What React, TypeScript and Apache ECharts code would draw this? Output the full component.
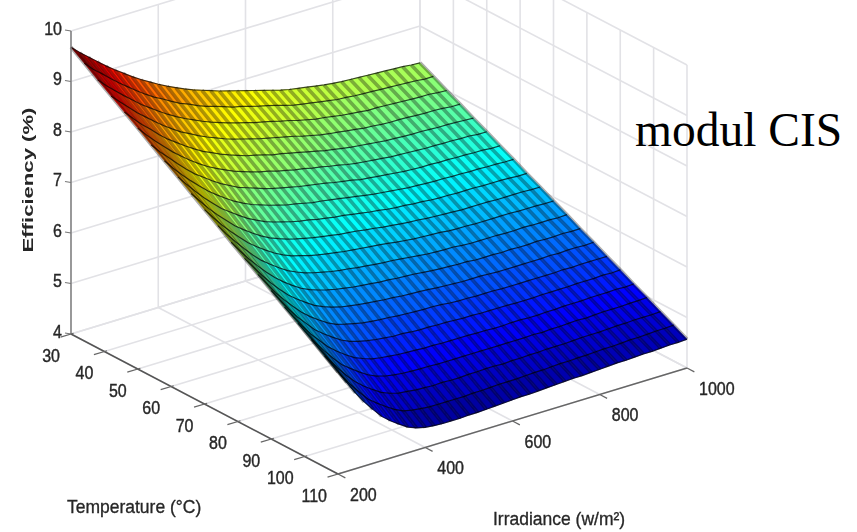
import React, { useEffect, useRef } from "react";
import * as echarts from "echarts";

const temperatureTicks = [30, 40, 50, 60, 70, 80, 90, 100, 110];
const irradianceTicks = [200, 400, 600, 800, 1000];
const efficiencyTicks = [4, 5, 6, 7, 8, 9, 10];

const temperatures = [30, 34, 38, 42, 46, 50, 54, 58, 62, 66, 70, 74, 78, 82, 86, 90, 94, 98, 102, 106, 110];
const irradiances = [200, 220, 240, 260, 280, 300, 320, 340, 360, 380, 400, 420, 440, 460, 480, 500, 520, 540, 560, 580, 600, 620, 640, 660, 680, 700, 720, 740, 760, 780, 800, 820, 840, 860, 880, 900, 920, 940, 960, 980, 1000];

// One array per irradiance, one value per temperature.
const efficiency = [
  [9.68, 9.5, 9.31, 9.13, 8.95, 8.77, 8.58, 8.4, 8.22, 8.03, 7.85, 7.67, 7.48, 7.3, 7.12, 6.94, 6.75, 6.57, 6.39, 6.2, 6.02],
  [9.52, 9.33, 9.14, 8.96, 8.77, 8.58, 8.39, 8.2, 8.02, 7.83, 7.64, 7.45, 7.26, 7.08, 6.89, 6.7, 6.51, 6.32, 6.14, 5.95, 5.76],
  [9.38, 9.19, 8.99, 8.8, 8.6, 8.41, 8.22, 8.02, 7.83, 7.63, 7.44, 7.25, 7.05, 6.86, 6.66, 6.47, 6.28, 6.08, 5.89, 5.69, 5.5],
  [9.24, 9.04, 8.84, 8.64, 8.45, 8.25, 8.05, 7.85, 7.65, 7.45, 7.26, 7.06, 6.86, 6.66, 6.46, 6.26, 6.06, 5.87, 5.67, 5.47, 5.27],
  [9.1, 8.9, 8.7, 8.5, 8.29, 8.09, 7.89, 7.69, 7.49, 7.29, 7.09, 6.88, 6.68, 6.48, 6.28, 6.08, 5.88, 5.67, 5.47, 5.27, 5.07],
  [8.97, 8.77, 8.56, 8.36, 8.15, 7.95, 7.74, 7.54, 7.33, 7.13, 6.93, 6.72, 6.52, 6.31, 6.11, 5.9, 5.7, 5.49, 5.29, 5.08, 4.88],
  [8.85, 8.64, 8.44, 8.23, 8.03, 7.82, 7.62, 7.41, 7.21, 7.0, 6.8, 6.59, 6.38, 6.18, 5.97, 5.77, 5.56, 5.36, 5.15, 4.95, 4.74],
  [8.73, 8.52, 8.32, 8.11, 7.91, 7.7, 7.5, 7.29, 7.09, 6.88, 6.68, 6.47, 6.26, 6.06, 5.85, 5.65, 5.44, 5.24, 5.03, 4.83, 4.62],
  [8.62, 8.41, 8.21, 8.0, 7.8, 7.59, 7.39, 7.18, 6.98, 6.77, 6.57, 6.36, 6.15, 5.95, 5.74, 5.54, 5.33, 5.13, 4.92, 4.72, 4.51],
  [8.52, 8.32, 8.11, 7.91, 7.7, 7.5, 7.3, 7.09, 6.89, 6.68, 6.48, 6.28, 6.07, 5.87, 5.66, 5.46, 5.26, 5.05, 4.85, 4.64, 4.44],
  [8.42, 8.22, 8.02, 7.82, 7.62, 7.42, 7.21, 7.01, 6.81, 6.61, 6.41, 6.21, 6.01, 5.81, 5.61, 5.41, 5.2, 5.0, 4.8, 4.6, 4.4],
  [8.33, 8.13, 7.94, 7.74, 7.54, 7.34, 7.15, 6.95, 6.75, 6.55, 6.36, 6.16, 5.96, 5.76, 5.57, 5.37, 5.17, 4.97, 4.78, 4.58, 4.38],
  [8.25, 8.06, 7.86, 7.67, 7.47, 7.28, 7.09, 6.89, 6.7, 6.5, 6.31, 6.12, 5.92, 5.73, 5.53, 5.34, 5.15, 4.95, 4.76, 4.56, 4.37],
  [8.17, 7.98, 7.79, 7.6, 7.41, 7.22, 7.03, 6.84, 6.65, 6.46, 6.27, 6.08, 5.89, 5.7, 5.51, 5.32, 5.13, 4.94, 4.75, 4.56, 4.37],
  [8.1, 7.91, 7.73, 7.54, 7.35, 7.17, 6.98, 6.79, 6.61, 6.42, 6.24, 6.05, 5.86, 5.68, 5.49, 5.3, 5.12, 4.93, 4.74, 4.56, 4.37],
  [8.04, 7.86, 7.67, 7.49, 7.31, 7.13, 6.94, 6.76, 6.58, 6.39, 6.21, 6.03, 5.84, 5.66, 5.48, 5.3, 5.11, 4.93, 4.75, 4.56, 4.38],
  [7.98, 7.8, 7.62, 7.44, 7.26, 7.08, 6.9, 6.72, 6.54, 6.36, 6.18, 6.0, 5.82, 5.64, 5.46, 5.28, 5.1, 4.92, 4.74, 4.56, 4.38],
  [7.92, 7.74, 7.57, 7.39, 7.21, 7.04, 6.86, 6.68, 6.51, 6.33, 6.16, 5.98, 5.8, 5.63, 5.45, 5.27, 5.1, 4.92, 4.74, 4.57, 4.39],
  [7.87, 7.7, 7.52, 7.35, 7.18, 7.0, 6.83, 6.66, 6.48, 6.31, 6.14, 5.96, 5.79, 5.61, 5.44, 5.27, 5.09, 4.92, 4.75, 4.57, 4.4],
  [7.82, 7.65, 7.48, 7.31, 7.14, 6.97, 6.8, 6.63, 6.46, 6.29, 6.12, 5.94, 5.77, 5.6, 5.43, 5.26, 5.09, 4.92, 4.75, 4.58, 4.41],
  [7.77, 7.6, 7.44, 7.27, 7.1, 6.93, 6.77, 6.6, 6.43, 6.26, 6.1, 5.93, 5.76, 5.59, 5.43, 5.26, 5.09, 4.92, 4.76, 4.59, 4.42],
  [7.72, 7.56, 7.39, 7.23, 7.06, 6.9, 6.73, 6.57, 6.4, 6.24, 6.08, 5.91, 5.75, 5.58, 5.42, 5.25, 5.09, 4.92, 4.76, 4.59, 4.43],
  [7.67, 7.51, 7.35, 7.18, 7.02, 6.86, 6.7, 6.54, 6.37, 6.21, 6.05, 5.89, 5.73, 5.56, 5.4, 5.24, 5.08, 4.92, 4.75, 4.59, 4.43],
  [7.62, 7.46, 7.3, 7.14, 6.98, 6.83, 6.67, 6.51, 6.35, 6.19, 6.03, 5.87, 5.71, 5.55, 5.39, 5.24, 5.08, 4.92, 4.76, 4.6, 4.44],
  [7.57, 7.41, 7.26, 7.1, 6.95, 6.79, 6.63, 6.48, 6.32, 6.17, 6.01, 5.85, 5.7, 5.54, 5.39, 5.23, 5.07, 4.92, 4.76, 4.61, 4.45],
  [7.53, 7.38, 7.22, 7.07, 6.92, 6.76, 6.61, 6.46, 6.3, 6.15, 6.0, 5.84, 5.69, 5.53, 5.38, 5.23, 5.07, 4.92, 4.77, 4.61, 4.46],
  [7.5, 7.35, 7.2, 7.05, 6.89, 6.74, 6.59, 6.44, 6.29, 6.14, 5.99, 5.83, 5.68, 5.53, 5.38, 5.23, 5.08, 4.92, 4.77, 4.62, 4.47],
  [7.47, 7.32, 7.17, 7.02, 6.87, 6.72, 6.57, 6.42, 6.27, 6.12, 5.98, 5.83, 5.68, 5.53, 5.38, 5.23, 5.08, 4.93, 4.78, 4.63, 4.48],
  [7.44, 7.29, 7.14, 7.0, 6.85, 6.7, 6.55, 6.4, 6.26, 6.11, 5.96, 5.81, 5.66, 5.52, 5.37, 5.22, 5.07, 4.92, 4.78, 4.63, 4.48],
  [7.41, 7.26, 7.12, 6.97, 6.83, 6.68, 6.53, 6.39, 6.24, 6.1, 5.95, 5.8, 5.66, 5.51, 5.37, 5.22, 5.07, 4.93, 4.78, 4.64, 4.49],
  [7.39, 7.25, 7.1, 6.96, 6.81, 6.67, 6.52, 6.38, 6.23, 6.09, 5.95, 5.8, 5.66, 5.51, 5.37, 5.22, 5.08, 4.93, 4.79, 4.64, 4.5],
  [7.37, 7.23, 7.08, 6.94, 6.8, 6.66, 6.51, 6.37, 6.23, 6.08, 5.94, 5.8, 5.65, 5.51, 5.37, 5.23, 5.08, 4.94, 4.8, 4.65, 4.51],
  [7.36, 7.22, 7.08, 6.93, 6.79, 6.65, 6.51, 6.37, 6.22, 6.08, 5.94, 5.8, 5.66, 5.51, 5.37, 5.23, 5.09, 4.95, 4.8, 4.66, 4.52],
  [7.35, 7.21, 7.07, 6.93, 6.78, 6.64, 6.5, 6.36, 6.22, 6.08, 5.94, 5.79, 5.65, 5.51, 5.37, 5.23, 5.09, 4.94, 4.8, 4.66, 4.52],
  [7.34, 7.2, 7.06, 6.92, 6.78, 6.64, 6.5, 6.36, 6.22, 6.08, 5.94, 5.79, 5.65, 5.51, 5.37, 5.23, 5.09, 4.95, 4.81, 4.67, 4.53],
  [7.33, 7.19, 7.05, 6.91, 6.77, 6.63, 6.49, 6.35, 6.21, 6.07, 5.94, 5.8, 5.66, 5.52, 5.38, 5.24, 5.1, 4.96, 4.82, 4.68, 4.54],
  [7.32, 7.18, 7.04, 6.9, 6.76, 6.63, 6.49, 6.35, 6.21, 6.07, 5.93, 5.79, 5.65, 5.51, 5.37, 5.24, 5.1, 4.96, 4.82, 4.68, 4.54],
  [7.31, 7.17, 7.03, 6.9, 6.76, 6.62, 6.48, 6.34, 6.21, 6.07, 5.93, 5.79, 5.65, 5.52, 5.38, 5.24, 5.1, 4.96, 4.83, 4.69, 4.55],
  [7.3, 7.16, 7.03, 6.89, 6.75, 6.62, 6.48, 6.34, 6.2, 6.07, 5.93, 5.79, 5.66, 5.52, 5.38, 5.25, 5.11, 4.97, 4.83, 4.7, 4.56],
  [7.28, 7.14, 7.01, 6.87, 6.74, 6.6, 6.46, 6.33, 6.19, 6.06, 5.92, 5.78, 5.65, 5.51, 5.38, 5.24, 5.1, 4.97, 4.83, 4.7, 4.56],
  [7.27, 7.14, 7.0, 6.87, 6.73, 6.6, 6.46, 6.33, 6.19, 6.06, 5.92, 5.79, 5.65, 5.52, 5.38, 5.25, 5.11, 4.98, 4.84, 4.71, 4.57],
];

const jetColors = ["#00008f", "#0000ff", "#0080ff", "#00ffff", "#80ff80", "#ffff00", "#ff8000", "#ff0000", "#800000"];

const T0 = 30, T1 = 110, G0 = 200, G1 = 1000, Z0 = 4, Z1 = 10;

// Oblique view of the box: screen position of a (temperature, irradiance, efficiency) point.
const project = (t: number, g: number, z: number) => [
  71 + ((t - T0) / (T1 - T0)) * 267 + ((g - G0) / (G1 - G0)) * 349,
  334 + ((t - T0) / (T1 - T0)) * 140 - ((g - G0) / (G1 - G0)) * 106 - (z - Z0) * 50.5,
];

type Seg = { p: number[][]; color: string; width: number };
const GRID = "#e2e2e6";
const segs: Seg[] = [];
const add = (a: number[], b: number[], color: string, width: number) => segs.push({ p: [a, b], color, width });

efficiencyTicks.forEach((z) => {
  add(project(T0, G0, z), project(T0, G1, z), GRID, 1.6);
  add(project(T0, G1, z), project(T1, G1, z), GRID, 1.6);
});
irradianceTicks.forEach((g) => {
  add(project(T0, g, Z0), project(T0, g, Z1), GRID, 1.6);
  add(project(T0, g, Z0), project(T1, g, Z0), GRID, 1.6);
});
temperatureTicks.forEach((t) => {
  add(project(t, G1, Z0), project(t, G1, Z1), GRID, 1.6);
  add(project(t, G0, Z0), project(t, G1, Z0), GRID, 1.6);
});
const axisSegs: Seg[] = [];
const addAxis = (a: number[], b: number[], color: string, width: number) => axisSegs.push({ p: [a, b], color, width });
addAxis(project(T0, G0, Z0), project(T0, G0, Z1), "#777", 1.4);
addAxis(project(T0, G0, Z0), project(T1, G0, Z0), "#555", 1.6);
addAxis(project(T1, G0, Z0), project(T1, G1, Z0), "#666", 1.4);
efficiencyTicks.forEach((z) => {
  const p = project(T0, G0, z);
  addAxis(p, [p[0] - 6, p[1] - 1], "#777", 1.2);
});
temperatureTicks.forEach((t) => {
  addAxis(project(t, G0 + 6, Z0), project(t, G0 - 24, Z0), "#666", 1.2);
});
irradianceTicks.forEach((g) => {
  addAxis(project(T1, g, Z0), project(T1 + 2.2, g, Z0), "#666", 1.2);
});

const cells: number[][] = [];
for (let r = 0; r < temperatures.length - 1; r++) {
  for (let c = irradiances.length - 2; c >= 0; c--) {
    cells.push([c, r, (efficiency[c][r] + efficiency[c + 1][r] + efficiency[c][r + 1] + efficiency[c + 1][r + 1]) / 4]);
  }
}
const meshLines: number[][] = [
  ...irradiances.map((_, c) => [0, c]),
  ...temperatures.map((_, r) => [1, r]),
];

const FONT = '"Liberation Sans", Arial, sans-serif';
const INK = "#262626";
const tickText = (text: string, x: number, y: number, align: string) => ({
  type: "text",
  x,
  y,
  scaleY: 1.2,
  style: { text, fill: INK, stroke: INK, lineWidth: 0.35, font: `16px ${FONT}`, textAlign: align, textVerticalAlign: "middle" },
});

function buildOption() {
  return {
    animation: false,
    backgroundColor: "#fff",
    grid: { left: 0, right: 0, top: 0, bottom: 0 },
    xAxis: { type: "value", min: 0, max: 857, show: false },
    yAxis: { type: "value", min: 0, max: 532, inverse: true, show: false },
    visualMap: {
      show: false,
      type: "continuous",
      seriesIndex: 1,
      dimension: 2,
      min: 4.37,
      max: 9.68,
      inRange: { color: jetColors },
    },
    graphic: [
      { type: "text", x: 67, y: 506, scaleY: 1.1, style: { text: "Temperature (°C)", fill: INK, stroke: INK, lineWidth: 0.3, font: `17.5px ${FONT}`, textAlign: "left", textVerticalAlign: "middle" } },
      { type: "text", x: 493, y: 518, scaleY: 1.1, style: { text: "Irradiance (w/m²)", fill: INK, stroke: INK, lineWidth: 0.3, font: `17.5px ${FONT}`, textAlign: "left", textVerticalAlign: "middle" } },
      { type: "text", x: 28, y: 180, rotation: Math.PI / 2, scaleX: 1.58, style: { text: "Efficiency (%)", fill: INK, font: `bold 14px ${FONT}`, textAlign: "center", textVerticalAlign: "middle" } },
    ],
    series: [
      {
        type: "custom",
        silent: true,
        data: segs.map((_, i) => [i]),
        renderItem: (_: any, api: any) => {
          const s = segs[api.value(0)];
          return { type: "polyline", shape: { points: s.p.map((q) => api.coord(q)) }, style: { stroke: s.color, lineWidth: s.width, fill: "none" } };
        },
      },
      {
        type: "custom",
        silent: true,
        data: cells,
        renderItem: (_: any, api: any) => {
          const c = api.value(0), r = api.value(1);
          const corner = (i: number, j: number) => api.coord(project(temperatures[j], irradiances[i], efficiency[i][j]));
          const color = api.visual("color");
          return {
            type: "polygon",
            shape: { points: [corner(c, r), corner(c + 1, r), corner(c + 1, r + 1), corner(c, r + 1)] },
            style: { fill: color, stroke: color, lineWidth: 0.6 },
          };
        },
      },
      {
        type: "custom",
        silent: true,
        data: meshLines,
        renderItem: (_: any, api: any) => {
          const kind = api.value(0), idx = api.value(1);
          const points = kind === 0
            ? temperatures.map((t, j) => api.coord(project(t, irradiances[idx], efficiency[idx][j])))
            : irradiances.map((g, i) => api.coord(project(temperatures[idx], g, efficiency[i][idx])));
          return {
            type: "polyline",
            shape: { points },
            style: kind === 0
              ? { stroke: "rgba(0,0,0,0.32)", lineWidth: 3.6, fill: "none" }
              : { stroke: "rgba(0,0,0,0.72)", lineWidth: 1.2, fill: "none" },
          };
        },
      },
      {
        type: "custom",
        silent: true,
        data: axisSegs.map((_, i) => [i]),
        renderItem: (_: any, api: any) => {
          const s = axisSegs[api.value(0)];
          return { type: "polyline", shape: { points: s.p.map((q) => api.coord(q)) }, style: { stroke: s.color, lineWidth: s.width, fill: "none" } };
        },
      },
      {
        type: "custom",
        silent: true,
        data: efficiencyTicks.map((z) => [z]),
        renderItem: (_: any, api: any) => {
          const z = api.value(0);
          const p = api.coord(project(T0, G0, z));
          return tickText(String(z), p[0] - 9, p[1] - 3, "right");
        },
      },
      {
        type: "custom",
        silent: true,
        data: temperatureTicks.map((t) => [t]),
        renderItem: (_: any, api: any) => {
          const t = api.value(0);
          const p = api.coord(project(t, G0, Z0));
          return tickText(String(t), p[0] - 11, p[1] + 21, "right");
        },
      },
      {
        type: "custom",
        silent: true,
        data: irradianceTicks.map((g) => [g]),
        renderItem: (_: any, api: any) => {
          const g = api.value(0);
          const p = api.coord(project(T1, g, Z0));
          return tickText(String(g), p[0] + 12, p[1] + 20, "left");
        },
      },
    ],
  };
}

export default function App() {
  const chartRef = useRef<HTMLDivElement>(null);
  const noteRef = useRef<HTMLDivElement>(null);
  useEffect(() => {
    document.body.style.margin = "0";
    const chart = echarts.init(chartRef.current!, undefined, { renderer: "svg" });
    chart.setOption(buildOption() as any);
    const note = echarts.init(noteRef.current!, undefined, { renderer: "svg" });
    note.setOption({
      animation: false,
      graphic: [
        { type: "text", x: 635, y: 154, style: { text: "modul CIS", fill: "#000", font: '47.5px "Liberation Serif", "Times New Roman", serif', textAlign: "left", textVerticalAlign: "bottom" } },
      ],
    } as any);
    return () => {
      chart.dispose();
      note.dispose();
    };
  }, []);
  return (
    <div style={{ position: "relative", width: 857, height: 532, overflow: "hidden" }}>
      <div ref={chartRef} style={{ position: "absolute", left: 0, top: 0, width: 857, height: 532, filter: "blur(0.7px)" }} />
      <div ref={noteRef} style={{ position: "absolute", left: 0, top: 0, width: 857, height: 532 }} />
    </div>
  );
}
